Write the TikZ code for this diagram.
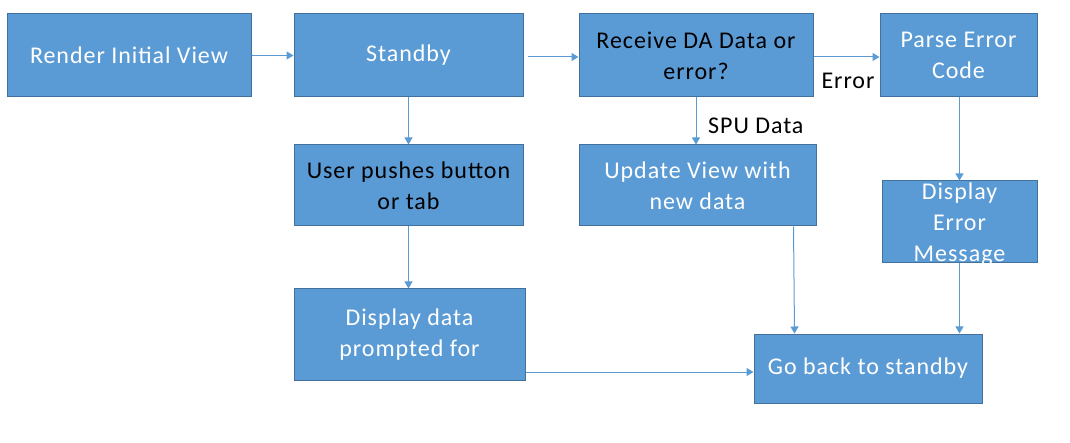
\documentclass[tikz,border=0pt]{standalone}
\usepackage{fontspec}
\setmainfont{Carlito}[LetterSpace=4]
\usetikzlibrary{arrows.meta}
\definecolor{boxfill}{HTML}{5B9BD5}
\definecolor{boxline}{HTML}{41719C}
\tikzset{
  box/.style = {draw=boxline, fill=boxfill, line width=1pt, text=white,
                align=center, inner sep=0pt,
                font=\fontsize{24}{31}\selectfont},
  dark/.style = {text=black},
  arr/.style = {draw=boxfill, line width=1pt,
                -{Triangle[length=7pt,width=8pt]}},
  lbl/.style = {font=\fontsize{24}{31}\selectfont, inner sep=0pt}
}
\begin{document}
\begin{tikzpicture}[x=1pt, y=-1pt]
  \useasboundingbox (0,0) rectangle (1070,443);
  % top row
  \node[box, minimum width=244, minimum height=83] (render) at (129,55.5) {Render Initial View};
  \node[box, minimum width=229, minimum height=83] (standby) at (408.5,55.5) {Standby};
  \node[box, dark, minimum width=234, minimum height=83] (receive) at (696,55.5) {Receive DA Data or\\error?};
  \node[box, minimum width=157, minimum height=83] (parse) at (958.5,55.5) {Parse Error\\Code};
  % middle row
  \node[box, dark, minimum width=229, minimum height=81] (user) at (408.5,185.5) {User pushes button\\or tab};
  \node[box, minimum width=237, minimum height=81] (update) at (697.5,185.5) {Update View with\\new data};
  \node[box, minimum width=155, minimum height=82] (disperr) at (959.5,222) {};
  \node[lbl, text=white, align=center] (disperrtxt) at (959.5,224) {Display\\Error\\Message};
  % bottom row
  \node[box, minimum width=231, minimum height=91] (dispdata) at (409.5,334.5) {Display data\\prompted for};
  \node[box, minimum width=228, minimum height=69] (goback) at (868,368.5) {Go back to standby};

  \draw[arr] (render) -- (standby);
  \draw[arr] ([xshift=4pt]standby.east |- 0,57) -- (receive.west |- 0,57);
  \draw[arr] (receive.east |- 0,57) -- (parse.west |- 0,57);
  \node[lbl, anchor=north] (errlbl) at (848,73) {Error};
  \draw[arr] (receive.south |- 0,97) -- (receive.south |- update.north);
  \node[lbl, anchor=west] (spulbl) at (708,126) {SPU Data};
  \draw[arr] (standby) -- (user);
  \draw[arr] (user.south) -- (user.south |- dispdata.north);
  \draw[arr] ([xshift=-23pt]update.south east) -- ([xshift=41pt]goback.north west);
  \draw[arr] (parse.south -| disperr.south) -- (disperr.north);
  \draw[arr] (disperr.south) -- (disperr.south |- goback.north);
  \draw[arr] (dispdata.east |- 0,372) -- (goback.west |- 0,372);
\end{tikzpicture}
\end{document}
